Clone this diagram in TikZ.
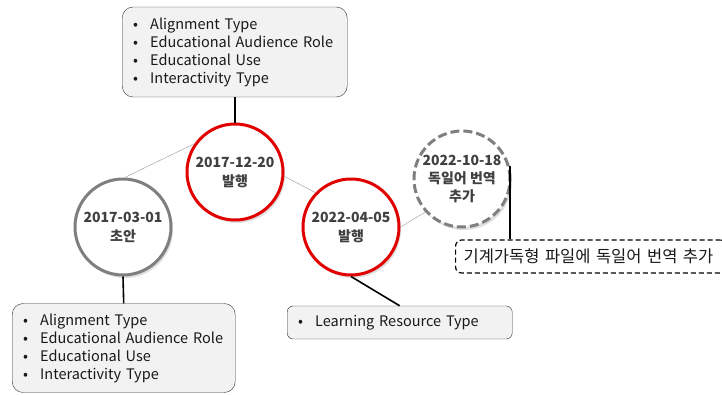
\documentclass[tikz,border=0pt]{standalone}
\usepackage{fontspec}
\setmainfont{Noto Sans CJK KR}
\usetikzlibrary{shadows}
\definecolor{boxgray}{HTML}{F2F2F2}
\definecolor{txtgray}{HTML}{404040}
\definecolor{revred}{HTML}{E00000}
\definecolor{rimgray}{HTML}{7F7F7F}
\newcommand{\itm}[1]{\makebox[17pt][l]{\textbullet}#1}
\tikzset{
  rev/.style={circle,draw=revred,line width=3pt,fill=white,minimum size=96pt,
    inner sep=0pt,align=center,text=txtgray,
    font=\fontsize{14}{19}\selectfont\bfseries,
    drop shadow={opacity=0.25,shadow xshift=2pt,shadow yshift=-3pt}},
  note/.style={draw=black!80,rounded corners=11pt,fill=boxgray,align=left,
    inner xsep=11pt,inner ysep=0pt,anchor=west,text=black!90,
    font=\fontsize{14.5}{18}\selectfont},
  link/.style={black,line width=1.6pt},
  thin/.style={black!35,line width=0.5pt}
}
\begin{document}
\begin{tikzpicture}[x=1pt,y=-1pt]
  \useasboundingbox (0,0) rectangle (722,394);
  % revisions
  \node[rev,draw=rimgray] (c0) at (123,227) {2017-03-01\\초안};
  \node[rev] (c1) at (235,172) {2017-12-20\\발행};
  \node[rev] (c2) at (351,227) {2022-04-05\\발행};
  \node[rev,draw=rimgray,dash pattern=on 9pt off 4pt,
    font=\fontsize{14}{18}\selectfont\bfseries] (c3) at (462,179)
    {2022-10-18\\독일어 번역\\추가};
  % property lists
  \node[note,text width=203pt,minimum height=90pt] (top) at (122,52)
    {\itm{Alignment Type}\\\itm{Educational Audience Role}\\
     \itm{Educational Use}\\\itm{Interactivity Type}};
  \node[note,text width=201pt,minimum height=89pt] (bot) at (12,348)
    {\itm{Alignment Type}\\\itm{Educational Audience Role}\\
     \itm{Educational Use}\\\itm{Interactivity Type}};
  \node[note,text width=203pt,minimum height=33pt,rounded corners=6pt] (lrt)
    at (287,322.5) {\itm{Learning Resource Type}};
  \node[note,fill=white,draw=black,dashed,dash pattern=on 5pt off 3pt,
    rounded corners=6pt,line width=1.2pt,text width=255pt,minimum height=33pt,
    inner xsep=8pt,font=\fontsize{16.5}{18}\selectfont] (add) at (455,256.5)
    {기계가독형 파일에 독일어 번역 추가};
  % connectors
  \draw[thin] (c0.88) -- (c1.145);
  \draw[thin] (c1.-5) -- (c2.136);
  \draw[thin] (c2.east) -- (c3.222);
  \draw[link] (top.south -| c1) -- (c1.north);
  \draw[link] (c0.south) -- (bot.north);
  \draw[link] (c2.south) -- (lrt.north);
  \draw[link] (c3.15) -- (c3.15 |- add.north);
\end{tikzpicture}
\end{document}
